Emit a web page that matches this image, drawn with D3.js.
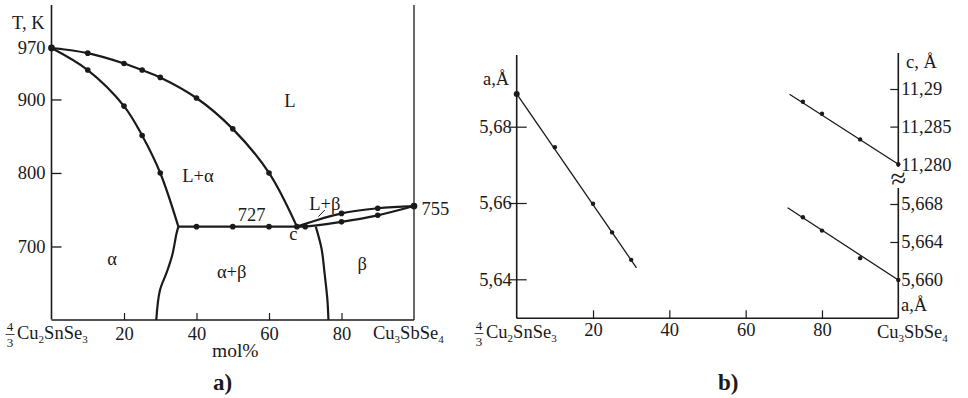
<!DOCTYPE html>
<html>
<head>
<meta charset="utf-8">
<script src="https://cdn.jsdelivr.net/npm/d3@7/dist/d3.min.js"></script>
<style>
  html, body { margin: 0; padding: 0; background: #fff; }
  svg { display: block; font-family: "Liberation Serif", "Times New Roman", serif; }
  svg text { font-family: "Liberation Serif", "Times New Roman", serif; }
</style>
</head>
<body>
<svg id="chart" width="968" height="398"></svg>
<script>
// ---------- Panel a: T–x diagram of the 4/3Cu2SnSe3 – Cu3SbSe4 section ----------
const tempTicks = [700, 800, 900, 970];
const molTicks = [20, 40, 60, 80];

// [mol% Cu3SbSe4, T in K]
const liquidusAlpha = [[0, 970], [10, 963], [20, 949], [25, 940], [30, 930], [40, 902], [50, 860], [60, 800], [67.7, 727]];
const solidusAlpha  = [[0, 970], [10, 940], [20, 891], [25, 851], [30, 800], [35, 727]];
const solvusAlpha   = [[35, 727], [34.5, 718], [33.3, 688], [31.8, 665], [29.9, 640], [28.9, 600]];
const eutecticLine  = [[35, 727], [70, 727]];
const liquidusBeta  = [[67.7, 727], [80, 745], [90, 752], [100, 755]];
const solidusBeta   = [[70, 727], [80, 733.5], [90, 742.4], [100, 755]];
const solvusBeta    = [[72.9, 727], [74.5, 697], [75.3, 665], [76.1, 628], [76.4, 600]];

// measured thermal-analysis points
const liquidusAlphaPts = [[10, 963], [20, 949], [25, 940], [30, 930], [40, 902], [50, 860], [60, 800]];
const solidusAlphaPts  = [[10, 940], [20, 891], [25, 851], [30, 800]];
const eutecticPts      = [[40, 727], [50, 727], [60, 727], [67.7, 727], [70, 727]];
const liquidusBetaPts  = [[80, 745], [90, 752]];
const solidusBetaPts   = [[80, 733.5], [90, 742.4]];
const meltingPts       = [[0, 970], [100, 755]];

// phase-field labels: [mol%, T, text]
const fieldLabels = [
  [65.8, 899, "L"], [40.4, 796, "L+α"], [55.2, 743, "727"], [66.7, 718, "c"],
  [75.4, 759, "L+β"], [105.9, 751, "755"], [16.7, 683, "α"], [49.7, 666, "α+β"], [85.7, 677, "β"]
];
const leaderLB = [[75.4, 749.6], [73.6, 740.5]];

// ---------- Panel b: lattice parameters vs composition ----------
const aTicksLeft = [5.64, 5.66, 5.68];
const aTicksRight = [5.660, 5.664, 5.668];
const aTicksRightLabels = ["5,660", "5,664", "5,668"];
const cTicks = [11.280, 11.285, 11.29];
const cTickLabels = ["11,280", "11,285", "11,29"];

const aAlphaPts  = [[0, 5.6886], [10, 5.6746], [20, 5.6598], [25, 5.6523], [30, 5.6451]];
const aAlphaLine = [[0, 5.6886], [31.4, 5.6430]];
const aBetaPts   = [[75, 5.6666], [80, 5.6652], [90, 5.6623], [100, 5.660]];
const aBetaLine  = [[71, 5.6676], [100, 5.660]];
const cBetaPts   = [[75, 11.2883], [80, 11.2867], [90, 11.2833], [100, 11.280]];
const cBetaLine  = [[71.5, 11.2893], [100, 11.280]];

// ---------------------------------------------------------------
const svg = d3.select("#chart");
svg.append("rect").attr("width", 968).attr("height", 398).attr("fill", "#fff");
const ink = "#1a1a1a";
const fs = 18.5;

// axis groups: drop d3's default sans-serif so the serif face is used
function styleAxis(ax, sw) {
  ax.attr("font-family", null).attr("font-size", null);
  ax.select(".domain").remove();
  ax.selectAll("line").attr("stroke", ink).attr("stroke-width", sw);
  ax.selectAll("text").attr("font-size", fs).attr("fill", ink);
  return ax;
}

// compound name with optional 4/3 prefix and subscripts
function compound(g, x, y, parts, frac) {
  const grp = g.append("g").attr("fill", ink);
  let x0 = x;
  if (frac) {
    grp.append("text").attr("x", x + 6).attr("y", y - 8).attr("text-anchor", "middle")
      .attr("font-size", 13).text("4");
    grp.append("text").attr("x", x + 6).attr("y", y + 8).attr("text-anchor", "middle")
      .attr("font-size", 13).text("3");
    grp.append("line").attr("x1", x + 1.5).attr("x2", x + 10.5).attr("y1", y - 4.5).attr("y2", y - 4.5)
      .attr("stroke", ink).attr("stroke-width", 0.8);
    x0 = x + 13;
  }
  const t = grp.append("text").attr("x", x0).attr("y", y).attr("font-size", fs);
  let shifted = false;
  parts.forEach(p => {
    const s = t.append("tspan").text(p.t);
    if (p.sub) { s.attr("font-size", 11).attr("dy", 4); shifted = true; }
    else if (shifted) { s.attr("dy", -4); shifted = false; }
  });
  return grp;
}
const leftName = [{t: "Cu"}, {t: "2", sub: true}, {t: "SnSe"}, {t: "3", sub: true}];
const rightName = [{t: "Cu"}, {t: "3", sub: true}, {t: "SbSe"}, {t: "4", sub: true}];

// ================= Panel a =================
const xA = d3.scaleLinear().domain([0, 100]).range([51.5, 414]);
const yT = d3.scaleLinear().domain([600, 970]).range([320, 48]);
const gA = svg.append("g");

// frame: left axis, bottom axis, right border
gA.append("line").attr("x1", xA(0)).attr("x2", xA(0)).attr("y1", 5).attr("y2", yT(600) - 0.5)
  .attr("stroke", ink).attr("stroke-width", 1.6);
gA.append("line").attr("x1", xA(100)).attr("x2", xA(100)).attr("y1", 5).attr("y2", yT(600))
  .attr("stroke", ink).attr("stroke-width", 1.3);
gA.append("line").attr("x1", xA(0)).attr("x2", xA(100)).attr("y1", yT(600)).attr("y2", yT(600))
  .attr("stroke", ink).attr("stroke-width", 1.6);

styleAxis(gA.append("g").attr("transform", `translate(${xA(0)},0)`)
  .call(d3.axisLeft(yT).tickValues(tempTicks).tickSizeInner(-10).tickSizeOuter(0).tickPadding(6)), 1.3);

styleAxis(gA.append("g").attr("transform", `translate(0,${yT(600)})`)
  .call(d3.axisBottom(xA).tickValues(molTicks).tickSizeInner(-7).tickSizeOuter(0).tickPadding(7)), 1.2);

gA.append("text").attr("x", 12).attr("y", 29).attr("font-size", fs).attr("fill", ink).text("T, K");
gA.append("text").attr("x", 212).attr("y", 357).attr("font-size", 19.5).attr("fill", ink).text("mol%");
gA.append("text").attr("x", 213).attr("y", 390).attr("font-size", 23).attr("font-weight", "bold")
  .attr("fill", ink).text("a)");
compound(gA, 4, 339, leftName, true);
compound(gA, 373, 339, rightName, false);

const curveA = d3.line().x(d => xA(d[0])).y(d => yT(d[1])).curve(d3.curveCatmullRom.alpha(0.5));
[liquidusAlpha, solidusAlpha, solvusAlpha, eutecticLine, liquidusBeta, solidusBeta, solvusBeta]
  .forEach(c => gA.append("path").attr("d", curveA(c)).attr("fill", "none")
    .attr("stroke", ink).attr("stroke-width", 2.2).attr("stroke-linejoin", "round"));

gA.append("path").attr("d", d3.line().x(d => xA(d[0])).y(d => yT(d[1]))(leaderLB))
  .attr("stroke", ink).attr("stroke-width", 1).attr("fill", "none");

gA.selectAll("circle.pt")
  .data([...liquidusAlphaPts, ...solidusAlphaPts, ...eutecticPts, ...liquidusBetaPts, ...solidusBetaPts])
  .join("circle").attr("class", "pt")
  .attr("cx", d => xA(d[0])).attr("cy", d => yT(d[1])).attr("r", 2.8).attr("fill", ink);
gA.selectAll("circle.mp").data(meltingPts).join("circle").attr("class", "mp")
  .attr("cx", d => xA(d[0])).attr("cy", d => yT(d[1])).attr("r", 3.4).attr("fill", ink);

gA.selectAll("text.field").data(fieldLabels).join("text").attr("class", "field")
  .attr("x", d => xA(d[0])).attr("y", d => yT(d[1])).attr("dy", "0.35em")
  .attr("text-anchor", "middle").attr("font-size", fs).attr("fill", ink).text(d => d[2]);

// ================= Panel b =================
const xB = d3.scaleLinear().domain([0, 100]).range([516.7, 898.3]);
const yAa = d3.scaleLinear().domain([5.64, 5.68]).range([279.3, 126.7]);
const yAb = d3.scaleLinear().domain([5.660, 5.668]).range([280, 204]);
const yC = d3.scaleLinear().domain([11.280, 11.29]).range([164.2, 89]);
const baseB = 318.3;
const gB = svg.append("g");
const fmtComma = d3.format(".2f");

// axes lines (the right one is broken between the c and a scales)
gB.append("line").attr("x1", xB(0)).attr("x2", xB(0)).attr("y1", 55).attr("y2", baseB)
  .attr("stroke", ink).attr("stroke-width", 1.6);
gB.append("line").attr("x1", xB(0)).attr("x2", xB(100)).attr("y1", baseB).attr("y2", baseB)
  .attr("stroke", ink).attr("stroke-width", 1.6);
gB.append("line").attr("x1", xB(100)).attr("x2", xB(100)).attr("y1", 53).attr("y2", 167)
  .attr("stroke", ink).attr("stroke-width", 1.6);
gB.append("line").attr("x1", xB(100)).attr("x2", xB(100)).attr("y1", 188).attr("y2", baseB)
  .attr("stroke", ink).attr("stroke-width", 1.6);
gB.append("text").attr("x", xB(100)).attr("y", 178).attr("dy", "0.35em").attr("text-anchor", "middle")
  .attr("font-size", 28).attr("fill", ink)
  .attr("transform", `rotate(-8,${xB(100)},178)`).text("≈");

// left a-axis: ticks cross the axis line
styleAxis(gB.append("g").attr("transform", `translate(${xB(0)},0)`)
  .call(d3.axisLeft(yAa).tickValues(aTicksLeft).tickSizeInner(-10).tickSizeOuter(0).tickPadding(5)
    .tickFormat(d => fmtComma(d).replace(".", ","))), 1.2);
const axAlOut = styleAxis(gB.append("g").attr("transform", `translate(${xB(0)},0)`)
  .call(d3.axisLeft(yAa).tickValues(aTicksLeft).tickSizeInner(8).tickSizeOuter(0).tickFormat("")), 1.2);
axAlOut.selectAll("text").remove();

// right axes: c (upper) and a (lower)
function rightAxis(scale, vals, labels) {
  const ax = styleAxis(gB.append("g").attr("transform", `translate(${xB(100)},0)`)
    .call(d3.axisRight(scale).tickValues(vals).tickSizeInner(-8).tickSizeOuter(0).tickPadding(3)
      .tickFormat((d, i) => labels[i])), 1.2);
  ax.selectAll(".tick").filter(d => d === scale.domain()[0]).select("line").remove();
}
rightAxis(yC, cTicks, cTickLabels);
rightAxis(yAb, aTicksRight, aTicksRightLabels);

// bottom composition axis
styleAxis(gB.append("g").attr("transform", `translate(0,${baseB})`)
  .call(d3.axisBottom(xB).tickValues(molTicks).tickSizeInner(-8).tickSizeOuter(0).tickPadding(5)), 1.2);

compound(gB, 473, 338, leftName, true);
compound(gB, 877, 338, rightName, false);
gB.append("text").attr("x", 483).attr("y", 85).attr("font-size", fs).attr("fill", ink).text("a,Å");
gB.append("text").attr("x", 906).attr("y", 68).attr("font-size", fs).attr("fill", ink).text("c, Å");
gB.append("text").attr("x", 901).attr("y", 311).attr("font-size", fs).attr("fill", ink).text("a,Å");
gB.append("text").attr("x", 718).attr("y", 390).attr("font-size", 23).attr("font-weight", "bold")
  .attr("fill", ink).text("b)");

// fitted straight lines and points
const lineAa = d3.line().x(d => xB(d[0])).y(d => yAa(d[1]));
const lineAb = d3.line().x(d => xB(d[0])).y(d => yAb(d[1]));
const lineC = d3.line().x(d => xB(d[0])).y(d => yC(d[1]));
gB.append("path").attr("d", lineAa(aAlphaLine)).attr("stroke", ink).attr("stroke-width", 1.3).attr("fill", "none");
gB.append("path").attr("d", lineAb(aBetaLine)).attr("stroke", ink).attr("stroke-width", 1.3).attr("fill", "none");
gB.append("path").attr("d", lineC(cBetaLine)).attr("stroke", ink).attr("stroke-width", 1.3).attr("fill", "none");

gB.selectAll("circle.aa").data(aAlphaPts).join("circle").attr("class", "aa")
  .attr("cx", d => xB(d[0])).attr("cy", d => yAa(d[1])).attr("r", (d, i) => i === 0 ? 3 : 2.2).attr("fill", ink);
gB.selectAll("circle.ab").data(aBetaPts).join("circle").attr("class", "ab")
  .attr("cx", d => xB(d[0])).attr("cy", d => yAb(d[1])).attr("r", 2.2).attr("fill", ink);
gB.selectAll("circle.cb").data(cBetaPts).join("circle").attr("class", "cb")
  .attr("cx", d => xB(d[0])).attr("cy", d => yC(d[1])).attr("r", 2.2).attr("fill", ink);
</script>
</body>
</html>
